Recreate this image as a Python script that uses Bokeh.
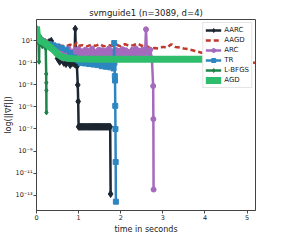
from bokeh.plotting import figure
from bokeh.models import Range1d, FixedTicker, CustomJSTickFormatter, Legend, LegendItem
from bokeh.embed import file_html
from bokeh.resources import INLINE

# ---- data (time in seconds, log10 of gradient norm) ----
aarc_t = [0.00, 0.05, 0.10, 0.15, 0.20, 0.25, 0.30, 0.35, 0.40, 0.45, 0.50, 0.55, 0.60, 0.65,
          0.70, 0.75, 0.80, 0.85, 0.90, 0.92, 0.94, 0.96, 0.98, 0.99,
          1.000, 1.025, 1.050, 1.075, 1.100, 1.125, 1.150, 1.175, 1.200, 1.225, 1.250, 1.275,
          1.300, 1.325, 1.350, 1.375, 1.400, 1.425, 1.450, 1.475, 1.500, 1.525, 1.550, 1.575,
          1.600, 1.625, 1.650, 1.675, 1.700, 1.725, 1.750, 1.76]
aarc_log = [1.4, 1.2, 1.1, 1.0, 0.9, 0.8, 0.9, 1.0, 0.5, 0.0, -0.6, -0.9, -0.7, -1.0,
            -1.1, -0.9, -1.2, -1.0, -1.1, 2.1, -0.9, -1.3, -3.0, -4.5,
            -6.8, -6.8, -6.8, -6.8, -6.8, -6.8, -6.8, -6.8, -6.8, -6.8, -6.8, -6.8,
            -6.8, -6.8, -6.8, -6.8, -6.8, -6.8, -6.8, -6.8, -6.8, -6.8, -6.8, -6.8,
            -6.8, -6.8, -6.8, -6.8, -6.8, -6.8, -6.8, -12.9]

aagd_t = [0.0, 0.1, 0.2, 0.3, 0.4, 0.5, 0.6, 0.7, 0.8, 0.9, 0.95, 1.0, 1.1, 1.2, 1.3, 1.4, 1.5,
          1.6, 1.7, 1.8, 1.9, 2.0, 2.1, 2.2, 2.3, 2.4, 2.5, 2.6, 2.7, 2.8, 2.9, 3.0, 3.1, 3.2,
          3.3, 3.4, 3.5, 3.6, 3.7, 3.8, 3.9, 4.0, 4.1, 4.2, 4.3, 4.4, 4.5, 4.6, 4.7, 4.8, 4.9,
          5.0, 5.1, 5.2]
aagd_log = [1.3, 1.1, 1.0, 0.9, 0.7, 0.6, 0.55, 0.5, 0.65, 0.5, 0.85, 0.55, 0.6, 0.5, 0.65,
            0.55, 0.7, 0.5, 0.6, 0.55, 0.65, 0.5, 0.7, 0.55, 0.6, 0.75, 0.55, 0.6, 0.3, 0.35,
            0.3, 0.45, 0.4, 0.7, 0.45, 0.4, 0.3, 0.25, 0.15, 0.05, -0.05, -0.15, -0.2, -0.25,
            -0.35, -0.4, -0.5, -0.55, -0.65, -0.7, -0.8, -0.9, -0.95, -1.0]

arc_t = [0.00, 0.05, 0.10, 0.20, 0.30, 0.40, 0.50,
         0.60, 0.64, 0.68, 0.72, 0.76, 0.80, 0.84, 0.88, 0.92, 0.96,
         1.00, 1.04, 1.08, 1.12, 1.16, 1.20, 1.24, 1.28, 1.32, 1.36,
         1.40, 1.44, 1.48, 1.52, 1.56, 1.60, 1.64, 1.68, 1.72, 1.76,
         1.80, 1.84, 1.88, 1.92, 1.96, 2.00, 2.04, 2.08, 2.12, 2.16,
         2.20, 2.24, 2.28, 2.32, 2.36, 2.40, 2.44, 2.48, 2.52, 2.56,
         2.58, 2.60, 2.62, 2.66, 2.70, 2.74, 2.77, 2.775, 2.78]
arc_log = [1.5, 1.3, 1.1, 0.9, 0.7, 0.5, 0.4,
           0.2, -0.6, 0.1, -0.6, 0.3, -0.6, 0.0, -0.6, 0.2, -0.6,
           0.25, -0.6, 0.05, -0.6, 0.2, -0.6, 0.1, -0.6, 0.3, -0.6,
           0.0, -0.6, 0.2, -0.6, 0.15, -0.6, 0.1, -0.6, 0.3, -0.6,
           0.05, -0.6, 0.2, -0.6, 0.1, -0.6, 0.25, -0.6, 0.15, -0.6,
           0.0, -0.6, 0.2, -0.6, 0.3, -0.6, 0.1, -0.6, 0.2, -0.6,
           0.0, 2.05, 0.0, -0.5, 0.2, -0.6, -3.1, -6.1, -12.5]

tr_t = [0.00, 0.05, 0.10, 0.15, 0.20, 0.30, 0.40, 0.50, 0.60, 0.70, 0.80, 0.90, 1.00, 1.05,
        1.10, 1.15, 1.20, 1.25, 1.30, 1.35, 1.40, 1.45, 1.50, 1.55, 1.60, 1.65, 1.70, 1.75,
        1.80, 1.83, 1.845, 1.85, 1.86, 1.865, 1.87, 1.875, 1.88, 1.885]
tr_log = [1.4, 1.2, 1.0, 0.9, 0.8, 0.7, 0.6, 0.5, 0.35, 0.2, -0.1, -0.5, -0.8, -1.0,
          -0.8, -1.05, -0.8, -1.1, -0.8, -1.15, -0.8, -1.2, -0.8, -1.3, -0.8, -1.35, -0.8, -1.4,
          -0.8, -1.5, 0.8, -1.0, -2.2, -2.6, -4.9, -7.0, -10.0, -13.6]

lbfgs_t = [0.00, 0.01, 0.02, 0.03, 0.04, 0.05, 0.06, 0.07, 0.08, 0.09, 0.10, 0.12, 0.14, 0.16,
           0.18, 0.20, 0.22, 0.23, 0.232, 0.234, 0.236]
lbfgs_log = [2.2, 1.2, 1.9, 1.0, 1.5, 0.8, -0.9, 1.2, 0.9, 1.4, 0.7, 1.1, 0.5, 1.0,
             0.6, 0.9, 0.3, -2.0, -2.8, -3.5, -5.5]

agd_t = [0.00, 0.02, 0.05, 0.10, 0.15, 0.20, 0.30, 0.40, 0.50, 0.60, 0.70, 0.80, 0.90, 1.00,
         1.50, 2.00, 3.00, 4.00, 4.90]
agd_log = [2.3, 1.5, 1.2, 1.0, 0.9, 0.8, 0.5, 0.2, -0.2, -0.45, -0.55, -0.6, -0.63, -0.65,
           -0.67, -0.67, -0.67, -0.67, -0.67]

y_tick_exponents = [1, -1, -3, -5, -7, -9, -11, -13]
x_ticks = [0, 1, 2, 3, 4, 5]


def pw(vals):
    return [10 ** v for v in vals]


p = figure(frame_width=219, frame_height=191,
           x_range=Range1d(0, 5.2), y_range=Range1d(10 ** -14.4, 10 ** 2.94),
           y_axis_type="log", output_backend="svg", toolbar_location=None,
           title="svmguide1 (n=3089, d=4)",
           min_border_left=5, min_border_right=12, min_border_top=19, min_border_bottom=4)

p.background_fill_color = "white"
p.outline_line_color = "#444444"
p.xgrid.grid_line_color = None
p.ygrid.grid_line_color = None

p.title.align = "center"
p.title.text_font = "DejaVu Sans"
p.title.text_font_size = "8.5px"
p.title.text_font_style = "normal"
p.title.text_color = "#222222"
p.title.standoff = 3

for ax in (p.xaxis[0], p.yaxis[0]):
    ax.axis_line_color = "#444444"
    ax.major_tick_line_color = "#444444"
    ax.major_tick_out = 3
    ax.major_tick_in = 0
    ax.minor_tick_line_color = None
    ax.major_label_text_font = "DejaVu Sans"
    ax.major_label_text_font_size = "6.5px"
    ax.major_label_text_color = "#222222"
    ax.major_label_standoff = 1
    ax.axis_label_text_font = "DejaVu Sans"
    ax.axis_label_text_font_size = "8px"
    ax.axis_label_text_font_style = "normal"
    ax.axis_label_text_color = "#222222"
    ax.axis_label_standoff = 2

p.yaxis[0].axis_label_standoff = 0

p.xaxis.ticker = FixedTicker(ticks=x_ticks)
p.yaxis.ticker = FixedTicker(ticks=[10 ** e for e in y_tick_exponents], minor_ticks=[])
p.yaxis.formatter = CustomJSTickFormatter(code="""
const e = Math.round(Math.log10(tick));
const sup = {'-':'\u207b','0':'\u2070','1':'\u00b9','2':'\u00b2','3':'\u00b3','4':'\u2074',
             '5':'\u2075','6':'\u2076','7':'\u2077','8':'\u2078','9':'\u2079'};
return '10' + String(e).split('').map(c => sup[c]).join('');
""")
p.xaxis.axis_label = "time in seconds"
p.yaxis.axis_label = "log(||\u2207f||)"

items = []

c = "#1b2631"
l1 = p.line(aarc_t, pw(aarc_log), line_color=c, line_width=2.5)
m1 = p.scatter(aarc_t, pw(aarc_log), marker="diamond", size=7, color=c)
items.append(LegendItem(label="AARC", renderers=[l1, m1]))

c = "#c0392b"
l2 = p.line(aagd_t, pw(aagd_log), line_color=c, line_width=2.5, line_dash="5 3")
items.append(LegendItem(label="AAGD", renderers=[l2]))

c = "#a569bd"
l3 = p.line(arc_t, pw(arc_log), line_color=c, line_width=2.5)
m3 = p.scatter(arc_t, pw(arc_log), marker="circle", size=5, color=c)
items.append(LegendItem(label="ARC", renderers=[l3, m3]))

c = "#2e86c1"
l4 = p.line(tr_t, pw(tr_log), line_color=c, line_width=2.5)
m4 = p.scatter(tr_t, pw(tr_log), marker="square", size=5, color=c)
items.append(LegendItem(label="TR", renderers=[l4, m4]))

c = "#1e8449"
l5 = p.line(lbfgs_t, pw(lbfgs_log), line_color=c, line_width=2.5)
m5 = p.scatter(lbfgs_t, pw(lbfgs_log), marker="diamond", size=5, color=c)
items.append(LegendItem(label="L-BFGS", renderers=[l5, m5]))

c = "#2ebd6b"
l6 = p.line(agd_t, pw(agd_log), line_color=c, line_width=7)
items.append(LegendItem(label="AGD", renderers=[l6]))

legend = Legend(items=items, location="top_right")
legend.label_text_font = "DejaVu Sans"
legend.label_text_font_size = "7px"
legend.label_text_color = "#222222"
legend.glyph_width = 16
legend.glyph_height = 10
legend.label_height = 10
legend.label_standoff = 3
legend.spacing = 0
legend.padding = 2
legend.margin = 3
legend.border_line_color = "#cccccc"
legend.background_fill_color = "white"
legend.background_fill_alpha = 1.0
p.add_layout(legend)

open("out.html", "w").write(file_html(p, INLINE))
